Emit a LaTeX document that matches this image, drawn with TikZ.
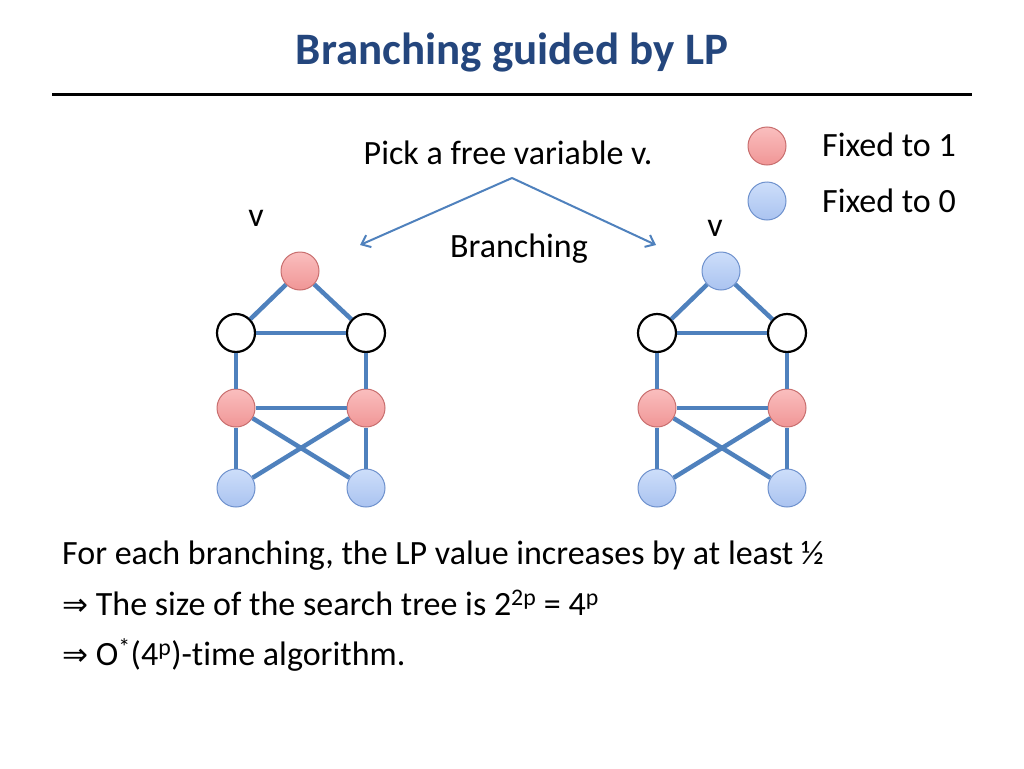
\documentclass[tikz,border=0pt]{standalone}
\usepackage{fontspec}
\setmainfont{Carlito}[Ligatures=NoCommon]
\newfontfamily\arrowfont{DejaVu Sans}
\usetikzlibrary{arrows.meta}

\definecolor{titleblue}{RGB}{36,70,125}
\definecolor{edgeblue}{RGB}{79,129,189}
\definecolor{redtop}{RGB}{250,190,190}
\definecolor{redbot}{RGB}{240,150,150}
\definecolor{redline}{RGB}{200,110,110}
\definecolor{bluetop}{RGB}{205,222,250}
\definecolor{bluebot}{RGB}{170,195,240}
\definecolor{blueline}{RGB}{110,145,205}

\newcommand{\impl}{{\arrowfont\fontsize{31}{34}\selectfont ⇒}}

\tikzset{
  vtx/.style={circle,minimum size=38pt,inner sep=0pt,line width=1pt},
  onevtx/.style={vtx,draw=redline,top color=redtop,bottom color=redbot},
  zerovtx/.style={vtx,draw=blueline,top color=bluetop,bottom color=bluebot},
  freevtx/.style={vtx,draw=black,line width=2.2pt,fill=white},
  gedge/.style={draw=edgeblue,line width=4.5pt},
  branch/.style={draw=edgeblue,line width=2pt,-{Straight Barb[length=8pt,width=13pt]}},
  txt/.style={font=\fontsize{34}{38}\selectfont,inner sep=0pt},
}

\begin{document}
\begin{tikzpicture}[x=1pt,y=-1pt]
\useasboundingbox (0,0) rectangle (1024,768);

% title
\node[font=\fontsize{45}{50}\selectfont\bfseries,text=titleblue] (title) at (512,53) {Branching guided by LP};
\draw[line width=3pt] (52,94) coordinate (rulel) -- (972,94) coordinate (ruler);

% legend
\node[onevtx] (leg1) at (767,146) {};
\node[zerovtx] (leg0) at (767,201) {};
\node[txt,anchor=west] (legtxt1) at (822,145) {Fixed to 1};
\node[txt,anchor=west] (legtxt0) at (822,201) {Fixed to 0};

% branching
\node[txt] (pick) at (508,153) {Pick a free variable v.};
\coordinate (apex) at (512,178);
\coordinate (endL) at (360,245);
\coordinate (endR) at (656,245);
\draw[branch] (apex) -- (endL);
\draw[branch] (apex) -- (endR);
\node[txt] (branching) at (519,249) {Branching};
\node[txt] (vL) at (256,218) {v};
\node[txt] (vR) at (715,228) {v};

% the two graphs
\foreach \g/\dx/\topstyle in {L/0/onevtx, R/421/zerovtx} {
    \node[\topstyle] (\g-top) at (300+\dx,271) {};
    \node[freevtx] (\g-ml) at (236+\dx,333) {};
    \node[freevtx] (\g-mr) at (366+\dx,333) {};
    \node[onevtx] (\g-rl) at (236+\dx,408) {};
    \node[onevtx] (\g-rr) at (366+\dx,408) {};
    \node[zerovtx] (\g-bl) at (236+\dx,488) {};
    \node[zerovtx] (\g-br) at (366+\dx,488) {};
    \foreach \a/\b in {top/ml, top/mr, ml/mr, ml/rl, mr/rr, rl/rr, rl/bl, rr/br, rl/br, rr/bl} {
        \draw[gedge] (\g-\a) -- (\g-\b);
    }
}

% text below
\node[txt,anchor=base west] (line1) at (62,564) {For each branching, the LP value increases by at least ½};
\node[txt,anchor=base west] (line2) at (62,615) {\impl{} The size of the search tree is 2\textsuperscript{2p} = 4\textsuperscript{p}};
\node[txt,anchor=base west] (line3) at (62,665) {\impl{} O\textsuperscript{*}(4\textsuperscript{p})-time algorithm.};
\end{tikzpicture}
\end{document}
